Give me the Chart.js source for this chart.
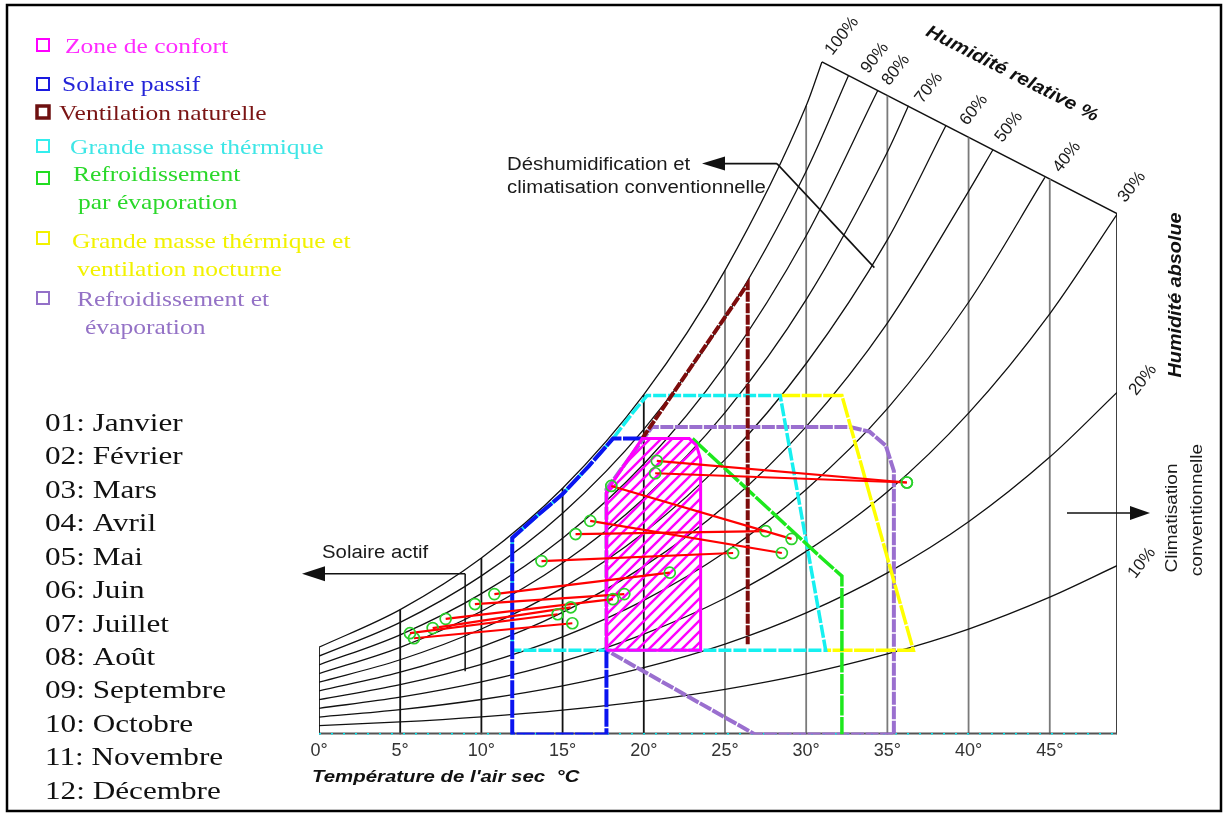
<!DOCTYPE html>
<html>
<head>
<meta charset="utf-8">
<script src="https://cdn.jsdelivr.net/npm/chart.js@4.4.1/dist/chart.umd.min.js"></script>
<style>
  html, body { margin: 0; padding: 0; background: #fff; }
  canvas { display: block; }
</style>
</head>
<body>
<canvas id="chart" width="1223" height="814"></canvas>
<script>
// --- psychrometric grid (T in °C, absolute humidity in g/kg) ---
const gridTemps = [0, 5, 10, 15, 20, 25, 30, 35, 40, 45];
const rhNames = ['100%', '90%', '80%', '70%', '60%', '50%', '40%', '30%', '20%', '10%'];
const rh100 = [3.77, 5.40, 7.63, 10.65, 14.70, 20.08, 27.20];
const rh90 = [3.39, 4.85, 6.86, 9.57, 13.20, 18.02, 24.37];
const rh80 = [3.01, 4.31, 6.09, 8.49, 11.70, 15.97, 21.58];
const rh70 = [2.63, 3.77, 5.33, 7.42, 10.21, 13.92, 18.81, 25.2];
const rh60 = [2.26, 3.23, 4.56, 6.34, 8.73, 11.89, 16.05, 21.4];
const rh50 = [1.88, 2.69, 3.79, 5.28, 7.27, 9.88, 13.32, 17.8, 23.5];
const rh40 = [1.50, 2.15, 3.03, 4.22, 5.80, 7.88, 10.60, 14.1, 18.7];
const rh30 = [1.13, 1.61, 2.27, 3.16, 4.34, 5.89, 7.92, 10.5, 13.9, 18.2];
const rh20 = [0.75, 1.07, 1.51, 2.10, 2.89, 3.91, 5.26, 6.99, 9.2, 12.0];
const rh10 = [0.38, 0.54, 0.76, 1.05, 1.44, 1.95, 2.62, 3.48, 4.56, 5.94];
const rhEndT = [30.97, 32.6, 34.4, 36.3, 38.6, 41.5, 44.7, 49.14, 49.14, 49.14];
const rhEndW = [29.1, 28.5, 27.85, 27.2, 26.34, 25.3, 24.1, 22.5, 14.8, 7.3];
// top of each vertical temperature line
const vLineT = [0, 5, 10, 15, 20, 25, 30, 35, 40, 45, 49.14];
const vLineTop = [3.77, 5.40, 7.63, 10.65, 14.70, 20.08, 27.20, 27.64, 25.83, 24.03, 22.54];
const topEdgeT = [30.97, 49.14];
const topEdgeW = [29.1, 22.54];

// --- zones ---
const comfortT = [17.7, 17.7, 19.9, 22.8, 23.25, 23.5, 23.5, 17.7];
const comfortW = [3.64, 10.5, 12.8, 12.8, 12.5, 11.9, 3.64, 3.64];
const passiveT = [17.7, 17.7, 11.9, 11.9, 13.5, 15.0, 16.6, 18.1, 19.9];
const passiveW = [3.64, 0, 0, 8.5, 9.5, 10.4, 11.6, 12.8, 12.8];
const ventT = [19.9, 26.4, 26.4];
const ventW = [12.8, 19.5, 3.9];
const massT = [11.9, 11.9, 13.5, 15.0, 16.6, 18.1, 19.3, 20.2, 28.4, 31.2, 11.9];
const massW = [3.64, 8.5, 9.5, 10.4, 11.6, 12.8, 13.9, 14.66, 14.66, 3.64, 3.64];
const evapT = [23.0, 31.0, 32.2, 32.2];
const evapW = [12.8, 7.6, 6.85, 0];
const nightT = [28.4, 32.2, 36.6, 31.2];
const nightW = [14.66, 14.66, 3.64, 3.64];
const coolT = [17.7, 17.7, 20.5, 32.7, 33.9, 34.9, 35.4, 35.4, 26.85, 17.7];
const coolW = [3.64, 10.6, 13.3, 13.3, 13.1, 12.5, 11.4, 0, 0, 3.64];
const activeSolarT = [9, 9];
const activeSolarW = [6.95, 2.73];

// --- monthly climate (min temp point -> max temp point) ---
const months = ['01: Janvier', '02: Février', '03: Mars', '04: Avril', '05: Mai', '06: Juin',
  '07: Juillet', '08: Août', '09: Septembre', '10: Octobre', '11: Novembre', '12: Décembre'];
const tMin = [5.6, 7.0, 7.8, 10.8, 13.7, 16.7, 20.8, 20.7, 18.0, 15.8, 9.6, 5.85];
const wAtTMin = [4.38, 4.6, 5.0, 6.07, 7.5, 9.24, 11.84, 11.3, 10.75, 8.67, 5.64, 4.16];
const tMax = [14.7, 15.5, 18.1, 21.6, 25.5, 28.5, 36.2, 36.2, 29.1, 27.5, 18.8, 15.6];
const wAtTMax = [5.2, 5.5, 5.85, 7.0, 7.85, 7.85, 10.9, 10.9, 8.46, 8.8, 6.07, 4.81];

const xTicks = [0, 5, 10, 15, 20, 25, 30, 35, 40, 45];

function pts(xs, ys) {
  return xs.map((x, i) => ({ x: x, y: ys[i] }));
}

function path(xs, ys, color, width, dash, order, extra) {
  return Object.assign({
    type: 'scatter',
    data: pts(xs, ys),
    showLine: true,
    borderColor: color,
    borderWidth: width,
    borderDash: dash || [],
    pointRadius: 0,
    pointHoverRadius: 0,
    fill: false,
    tension: 0,
    order: order
  }, extra || {});
}

// hatch for the comfort zone
function hatch() {
  const s = 11;
  const c = document.createElement('canvas');
  c.width = s; c.height = s;
  const g = c.getContext('2d');
  g.strokeStyle = '#ff00ff';
  g.lineWidth = 2.4;
  g.beginPath();
  g.moveTo(0, s); g.lineTo(s, 0);
  g.moveTo(-2, 2); g.lineTo(2, -2);
  g.moveTo(s - 2, s + 2); g.lineTo(s + 2, s - 2);
  g.stroke();
  return g.createPattern(c, 'repeat');
}

const datasets = [];

// months
months.forEach((m, i) => {
  datasets.push(path([tMin[i], tMax[i]], [wAtTMin[i], wAtTMax[i]], '#ff0000', 2.2, [], 0, {
    pointRadius: 5.5,
    pointBorderColor: '#2bd12b',
    pointBackgroundColor: 'rgba(0,0,0,0)',
    pointBorderWidth: 1.7
  }));
});

datasets.push(path(comfortT, comfortW, '#ff00ff', 3, [], 1, { fill: 'shape', backgroundColor: hatch() }));
datasets.push(path(passiveT, passiveW, '#0a14f0', 4, [18, 1.5], 2));
datasets.push(path(ventT, ventW, '#7d0c0c', 4, [10, 1.5], 3));
datasets.push(path(evapT, evapW, '#1de81d', 3.5, [20, 1.5], 4));
datasets.push(path(massT, massW, '#16f0f0', 3.5, [13, 2], 5));
datasets.push(path(nightT, nightW, '#ffff00', 3.5, [20, 1.5], 6));
datasets.push(path(coolT, coolW, '#9a6fcf', 4, [13, 1.5], 7));

// axis line + cyan dashes
datasets.push(path([0, 49.14], [0, 0], '#00e5ee', 3, [2, 10], 8));
datasets.push(path([0, 49.14], [0, 0], '#555555', 4, [], 9));

// relative humidity curves
[rh100, rh90, rh80, rh70, rh60, rh50, rh40, rh30, rh20, rh10].forEach((arr, i) => {
  const xs = gridTemps.slice(0, arr.length).concat([rhEndT[i]]);
  const ys = arr.concat([rhEndW[i]]);
  datasets.push(path(xs, ys, '#111111', 1.3, [], 10, { cubicInterpolationMode: 'monotone' }));
});

// vertical temperature lines
vLineT.forEach((t, i) => {
  const col = (t <= 20 || t > 46) ? '#111111' : '#7a7a7a';
  datasets.push(path([t, t], [0, vLineTop[i]], col, t > 46 ? 1.6 : 1.8, [], 11));
});
datasets.push(path(topEdgeT, topEdgeW, '#111111', 1.5, [], 11));
datasets.push(path(activeSolarT, activeSolarW, '#111111', 1.5, [], 11));

function arrow(ctx, x1, y1, x2, y2, len, half) {
  const a = Math.atan2(y2 - y1, x2 - x1);
  ctx.beginPath();
  ctx.moveTo(x1, y1);
  ctx.lineTo(x2 - Math.cos(a) * len * 0.6, y2 - Math.sin(a) * len * 0.6);
  ctx.stroke();
  ctx.beginPath();
  ctx.moveTo(x2, y2);
  ctx.lineTo(x2 - Math.cos(a) * len - Math.sin(a) * half, y2 - Math.sin(a) * len + Math.cos(a) * half);
  ctx.lineTo(x2 - Math.cos(a) * len + Math.sin(a) * half, y2 - Math.sin(a) * len - Math.cos(a) * half);
  ctx.closePath();
  ctx.fill();
}

// text with optional rotation and horizontal stretch
function txt(ctx, s, x, y, ang, sx) {
  ctx.save();
  ctx.translate(x, y);
  ctx.rotate((ang || 0) * Math.PI / 180);
  ctx.scale(sx || 1, 1);
  ctx.fillText(s, 0, 0);
  ctx.restore();
}

const overlay = {
  id: 'overlay',
  afterDraw(chart) {
    const ctx = chart.ctx;
    const px = v => chart.scales.x.getPixelForValue(v);
    const py = v => chart.scales.y.getPixelForValue(v);
    ctx.save();

    // outer frame
    ctx.strokeStyle = '#000';
    ctx.lineWidth = 2.5;
    ctx.strokeRect(7, 5, 1214, 806);

    // arrows
    ctx.strokeStyle = '#111';
    ctx.fillStyle = '#111';
    ctx.lineWidth = 1.6;
    arrow(ctx, px(9), py(6.95), 302, py(6.95), 23, 7.5);
    const dx = px(28.2), dy = py(24.7);
    arrow(ctx, dx, dy, 702, dy, 23, 7);
    ctx.beginPath();
    ctx.moveTo(dx, dy);
    ctx.lineTo(px(34.2), py(20.2));
    ctx.stroke();
    arrow(ctx, 1067, 513, 1150, 513, 20, 7);

    // annotations
    ctx.fillStyle = '#1a1a1a';
    ctx.textBaseline = 'middle';
    ctx.textAlign = 'left';
    ctx.font = '18px "Liberation Sans"';
    txt(ctx, 'Solaire actif', 322, 553, 0, 1.13);
    txt(ctx, 'Déshumidification et', 507, 165, 0, 1.13);
    txt(ctx, 'climatisation conventionnelle', 507, 188, 0, 1.13);

    // x axis title
    ctx.font = 'italic bold 17px "Liberation Sans"';
    ctx.fillStyle = '#111';
    txt(ctx, "Température de l'air sec  °C", 312, 777, 0, 1.2);

    ctx.textAlign = 'center';
    ctx.fillStyle = '#1a1a1a';
    ctx.font = '17px "Liberation Sans"';
    txt(ctx, 'Climatisation', 1172, 518, -90, 1.12);
    txt(ctx, 'conventionnelle', 1197, 510, -90, 1.12);

    ctx.fillStyle = '#111';
    ctx.font = 'italic bold 18px "Liberation Sans"';
    txt(ctx, 'Humidité absolue', 1176, 295, -90, 1.1);
    txt(ctx, 'Humidité relative %', 1012, 74, 27, 1.15);

    ctx.fillStyle = '#1a1a1a';
    ctx.font = '17px "Liberation Sans"';
    const rhPos = [[842, 36], [875, 58], [896, 70], [929, 88], [974, 110], [1009, 127],
      [1067, 157], [1132, 187], [1143, 380], [1142, 563]];
    rhNames.forEach((n, i) => txt(ctx, n, rhPos[i][0], rhPos[i][1], -52, 1));

    // legend
    const legend = [
      ['#ff00ff', '#ff2bff', 45, ['Zone de confort'], 65, [47]],
      ['#1a1ae0', '#2424d8', 84, ['Solaire passif'], 62, [85]],
      ['#6e1010', '#7a1414', 112, ['Ventilation naturelle'], 59, [114]],
      ['#33eeee', '#3ee6e6', 146, ['Grande masse thérmique'], 70, [148]],
      ['#22dd22', '#2ad82a', 178, ['Refroidissement', 'par évaporation'], 73, [175, 203]],
      ['#f2f200', '#f2f200', 238, ['Grande masse thérmique et', 'ventilation nocturne'], 72, [242, 270]],
      ['#9370c8', '#9472c6', 298, ['Refroidissement et', 'évaporation'], 77, [300, 328]]
    ];
    ctx.textAlign = 'left';
    ctx.textBaseline = 'middle';
    ctx.font = '22px "Liberation Serif"';
    legend.forEach((it, i) => {
      ctx.strokeStyle = it[0];
      ctx.lineWidth = i === 2 ? 3.5 : 2;
      ctx.strokeRect(37, it[2] - 6, 12, 12);
      ctx.fillStyle = it[1];
      it[3].forEach((t, j) => {
        txt(ctx, t, it[4] + (j > 0 ? (i === 6 ? 8 : 5) : 0), it[5][j], 0, 1.16);
      });
    });

    // month list
    ctx.fillStyle = '#111';
    ctx.font = '26px "Liberation Serif"';
    months.forEach((m, i) => txt(ctx, m, 45, 424 + i * 33.45, 0, 1.2));

    ctx.restore();
  }
};

new Chart(document.getElementById('chart').getContext('2d'), {
  type: 'scatter',
  data: { datasets: datasets },
  options: {
    responsive: false,
    animation: false,
    devicePixelRatio: 1,
    layout: { padding: { left: 319, right: 106, top: 18, bottom: 46 } },
    plugins: { legend: { display: false }, tooltip: { enabled: false } },
    scales: {
      x: {
        type: 'linear',
        min: 0,
        max: 49.14,
        grid: { display: false, drawTicks: false },
        border: { display: false },
        afterBuildTicks: s => { s.ticks = xTicks.map(v => ({ value: v })); },
        ticks: {
          autoSkip: false,
          maxRotation: 0,
          padding: 6,
          color: '#333',
          font: { family: 'Liberation Sans', size: 18 },
          callback: v => v + '°'
        }
      },
      y: { display: false, min: 0, max: 31 }
    }
  },
  plugins: [overlay]
});
</script>
</body>
</html>
